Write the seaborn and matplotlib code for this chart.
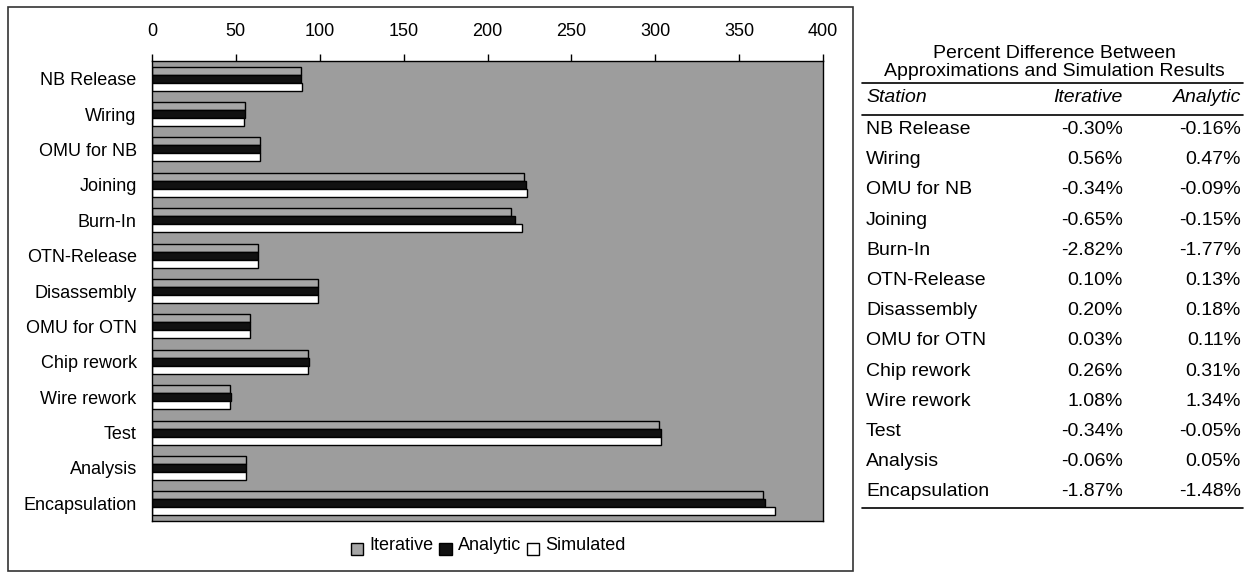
import matplotlib
matplotlib.use("Agg")
import matplotlib.pyplot as plt
from matplotlib.patches import Rectangle, Patch
from matplotlib.lines import Line2D
from matplotlib.legend_handler import HandlerPatch
import seaborn as sns
import pandas as pd

stations = ["NB Release", "Wiring", "OMU for NB", "Joining", "Burn-In", "OTN-Release",
            "Disassembly", "OMU for OTN", "Chip rework", "Wire rework", "Test",
            "Analysis", "Encapsulation"]
iterative = [88.9, 55.3, 64.3, 221.9, 214.3, 63.0, 99.2, 58.5, 93.2, 46.7, 302.5, 56.1, 364.3]
analytic = [89.1, 55.3, 64.4, 223.0, 216.6, 63.0, 99.2, 58.6, 93.3, 46.8, 303.3, 56.1, 365.7]
simulated = [89.2, 55.0, 64.5, 223.3, 220.5, 62.9, 99.0, 58.5, 93.0, 46.2, 303.5, 56.1, 371.2]
methods = ["Iterative", "Analytic", "Simulated"]
x_ticks = [0, 50, 100, 150, 200, 250, 300, 350, 400]

table_title = ["Percent Difference Between", "Approximations and Simulation Results"]
table_header = ["Station", "Iterative", "Analytic"]
pct_iterative = [-0.30, 0.56, -0.34, -0.65, -2.82, 0.10, 0.20, 0.03, 0.26, 1.08, -0.34, -0.06, -1.87]
pct_analytic = [-0.16, 0.47, -0.09, -0.15, -1.77, 0.13, 0.18, 0.11, 0.31, 1.34, -0.05, 0.05, -1.48]

sns.set_theme(style="white")
plt.rcParams["font.family"] = ["Liberation Sans", "DejaVu Sans"]
plt.rcParams["text.color"] = "black"
plt.rcParams["xtick.color"] = "black"
plt.rcParams["ytick.color"] = "black"
plt.rcParams["xtick.labelcolor"] = "black"
plt.rcParams["ytick.labelcolor"] = "black"

W, H = 1247, 573
fig = plt.figure(figsize=(W / 100, H / 100), dpi=100)


def fx(px):
    return px / W


def fy(py):
    return 1 - py / H


# outer chart frame
fig.patches.append(Rectangle((fx(8), fy(571)), fx(853) - fx(8), fy(7) - fy(571),
                             transform=fig.transFigure, fill=False,
                             edgecolor="#333333", linewidth=1.2))

left, right, top, bottom = 152, 823, 61, 521
ax = fig.add_axes([fx(left), fy(bottom), fx(right) - fx(left), fy(top) - fy(bottom)])

df = pd.DataFrame({
    "Station": stations * 3,
    "Value": iterative + analytic + simulated,
    "Method": [m for m in methods for _ in stations],
})
palette = {"Iterative": "#a6a6a6", "Analytic": "#111111", "Simulated": "#ffffff"}
sns.barplot(data=df, y="Station", x="Value", hue="Method", orient="h",
            order=stations, hue_order=methods, palette=palette,
            edgecolor="black", linewidth=1.0, width=0.68, saturation=1,
            legend=False, ax=ax)

ax.set_facecolor("#9d9d9d")
ax.set_xlim(0, 400)
ax.set_ylim(len(stations) - 0.5, -0.5)
ax.set_xlabel("")
ax.set_ylabel("")
ax.xaxis.tick_top()
ax.set_xticks(x_ticks)
ax.set_xticklabels([str(t) for t in x_ticks], fontsize=13, color="black")
ax.tick_params(axis="x", direction="out", length=5, width=1, color="black", pad=10)
ax.set_yticks(range(len(stations)))
ax.set_yticklabels(stations, fontsize=13, color="black")
ax.tick_params(axis="y", which="major", length=0, pad=11)
ax.set_yticks([i + 0.5 for i in range(-1, len(stations))], minor=True)
ax.tick_params(axis="y", which="minor", direction="out", length=5, width=1, color="black")
for s in ax.spines.values():
    s.set_visible(True)
    s.set_color("black")
    s.set_linewidth(1.0)
ax.grid(False)


def low_box(legend, orig_handle, xdescent, ydescent, width, height, fontsize):
    # small square key sitting slightly below the text line
    side = 9.0
    return Rectangle((-xdescent + (width - side) / 2, -ydescent - 4), side, side)


handles = [Patch(facecolor=palette[m], edgecolor="black", linewidth=1.0) for m in methods]
leg = fig.legend(handles, methods, loc="center", bbox_to_anchor=(fx(488), fy(545)),
                 ncol=3, frameon=False, fontsize=13, handlelength=0.75, handleheight=0.7,
                 handletextpad=0.3, columnspacing=0.3,
                 handler_map={Patch: HandlerPatch(patch_func=low_box)})
for t in leg.get_texts():
    t.set_color("black")

# percent-difference table
tx0, tx_it, tx_an = 866, 1123, 1241
tfs = 14
fig.text(fx(1054), fy(58), table_title[0], ha="center", va="baseline", fontsize=tfs)
fig.text(fx(1054), fy(76), table_title[1], ha="center", va="baseline", fontsize=tfs)
fig.add_artist(Line2D([fx(862), fx(1243)], [fy(83), fy(83)], color="black", lw=1.2,
                      transform=fig.transFigure))
fig.text(fx(tx0), fy(102), table_header[0], ha="left", va="baseline", fontsize=tfs, style="italic")
fig.text(fx(tx_it), fy(102), table_header[1], ha="right", va="baseline", fontsize=tfs, style="italic")
fig.text(fx(tx_an), fy(102), table_header[2], ha="right", va="baseline", fontsize=tfs, style="italic")
fig.add_artist(Line2D([fx(862), fx(1243)], [fy(115), fy(115)], color="black", lw=1.2,
                      transform=fig.transFigure))
row0, row_step = 134, 30.2
for i, name in enumerate(stations):
    y = fy(row0 + i * row_step)
    fig.text(fx(tx0), y, name, ha="left", va="baseline", fontsize=tfs)
    fig.text(fx(tx_it), y, f"{pct_iterative[i]:.2f}%", ha="right", va="baseline", fontsize=tfs)
    fig.text(fx(tx_an), y, f"{pct_analytic[i]:.2f}%", ha="right", va="baseline", fontsize=tfs)
fig.add_artist(Line2D([fx(862), fx(1243)], [fy(508), fy(508)], color="black", lw=1.2,
                      transform=fig.transFigure))

fig.savefig("out.png", dpi=100, facecolor="white")
